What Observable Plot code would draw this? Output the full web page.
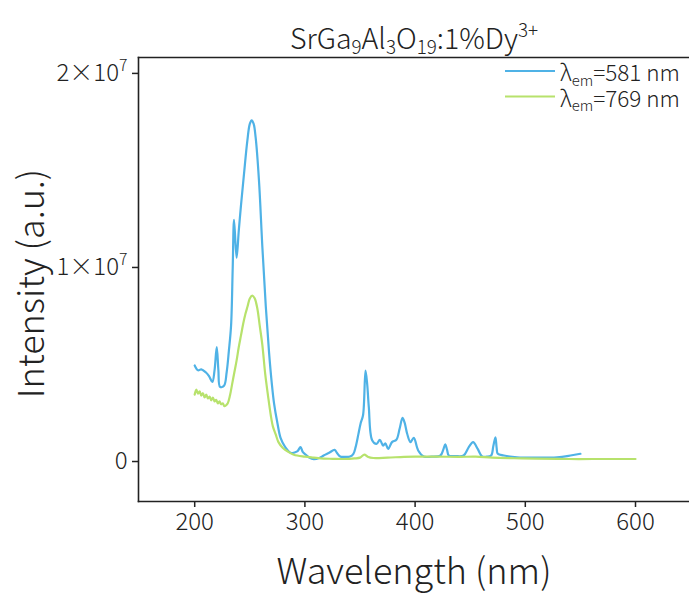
<!DOCTYPE html>
<html>
<head>
<meta charset="utf-8">
<script src="https://cdn.jsdelivr.net/npm/d3@7"></script>
<script src="https://cdn.jsdelivr.net/npm/@observablehq/plot@0.6"></script>
<style>
  html, body { margin: 0; padding: 0; background: #fff; }
  #chart svg { display: block; }
  #chart svg text { font-weight: 300; }
</style>
</head>
<body>
<div id="chart"></div>
<script>
// ---------- data ----------
const titleText = "SrGa_{9}Al_{3}O_{19}:1%Dy^{3+}";
const xLabel = "Wavelength (nm)";
const yLabel = "Intensity (a.u.)";
const seriesNames = ["λ_{em}=581 nm", "λ_{em}=769 nm"];
const xTicks = [200, 300, 400, 500, 600];
const yTicks = [0, 1e7, 2e7];
const yTickLabels = ["0", "1×10^{7}", "2×10^{7}"];

// λem = 581 nm
const wl581 = [200, 203, 206, 210, 213, 216, 218, 220, 221.5, 223, 226.6, 229, 231, 233, 234.5, 235.7, 238, 240, 242, 244.7,
  247.8, 250, 251.7, 253.5, 255.3, 258.3, 261.4, 264.5, 267.5, 270, 272, 275, 278, 282, 287, 293, 296, 298, 300.6, 304,
  308, 313, 317, 322, 327, 329, 332, 336, 341, 344, 346, 348.5, 350.5, 352.8, 355, 356.5, 358, 361, 365, 368,
  371, 373, 375.6, 379, 383, 386, 388.6, 390.5, 392.8, 395.8, 398.8, 402.8, 407.8, 415, 423, 425.5, 427.3, 429, 430.6, 437,
  444, 448.7, 452.6, 456.8, 460.8, 465, 469, 471, 472.9, 474, 475, 480.5, 492.5, 510, 528.8, 541, 550];
const int581 = [0.495, 0.47, 0.475, 0.46, 0.44, 0.41, 0.47, 0.59, 0.47, 0.385, 0.39, 0.46, 0.57, 0.7, 1.0, 1.246, 1.05, 1.19, 1.32, 1.48,
  1.655, 1.74, 1.758, 1.74, 1.67, 1.45, 1.105, 0.8, 0.56, 0.4, 0.3, 0.2, 0.12, 0.075, 0.045, 0.052, 0.074, 0.05, 0.036, 0.02,
  0.012, 0.018, 0.031, 0.045, 0.06, 0.045, 0.026, 0.024, 0.026, 0.04, 0.074, 0.14, 0.195, 0.24, 0.469, 0.4, 0.28, 0.11, 0.091, 0.112,
  0.082, 0.094, 0.065, 0.1, 0.112, 0.17, 0.225, 0.2, 0.143, 0.1, 0.122, 0.057, 0.026, 0.025, 0.031, 0.06, 0.088, 0.06, 0.031, 0.028,
  0.031, 0.074, 0.1, 0.065, 0.026, 0.025, 0.031, 0.08, 0.125, 0.07, 0.04, 0.031, 0.022, 0.02, 0.022, 0.031, 0.04].map(v => v * 1e7);

// λem = 769 nm
const wl769 = [200, 201.5, 203, 204.5, 206, 207.5, 209, 210.5, 212, 213.5, 215, 216.5, 218, 219.5, 221, 222.5, 224, 225.5, 227, 228.5,
  230, 232, 234, 236, 238, 240, 242, 244, 246, 248, 250, 252.3, 254.5, 256.8, 259, 261.4, 264, 266.5, 269, 271,
  273.5, 276, 280, 285, 290, 300, 308, 317, 325, 335, 345, 350, 354, 357, 362, 375, 390, 400, 420, 440,
  455, 470, 490, 510, 540, 570, 600];
const int769 = [0.345, 0.37, 0.35, 0.362, 0.34, 0.352, 0.33, 0.345, 0.325, 0.335, 0.315, 0.33, 0.31, 0.318, 0.3, 0.31, 0.295, 0.3, 0.285, 0.29,
  0.3, 0.34, 0.4, 0.46, 0.52, 0.59, 0.65, 0.71, 0.76, 0.8, 0.84, 0.855, 0.84, 0.79, 0.7, 0.6, 0.45, 0.34, 0.24, 0.18,
  0.14, 0.1, 0.07, 0.05, 0.035, 0.025, 0.02, 0.015, 0.014, 0.013, 0.016, 0.02, 0.036, 0.025, 0.018, 0.02, 0.024, 0.025, 0.025, 0.024,
  0.025, 0.02, 0.017, 0.015, 0.013, 0.013, 0.013].map(v => v * 1e7);

// ---------- build ----------
const colors = ["#4fb2e6", "#b7e26c"];
const rows = [
  ...wl581.map((w, i) => ({w, v: int581[i], s: seriesNames[0]})),
  ...wl769.map((w, i) => ({w, v: int769[i], s: seriesNames[1]}))
];

const FONT = "'Noto Sans CJK SC', 'Noto Sans', sans-serif";
const fs = 24;
const plot = Plot.plot({
  width: 689,
  height: 594,
  marginLeft: 138,
  marginRight: 0,
  marginTop: 57,
  marginBottom: 93,
  style: {fontFamily: FONT, fontSize: fs + "px", color: "#222"},
  x: {domain: [149, 649]},
  y: {domain: [-0.206e7, 2.082e7]},
  color: {domain: seriesNames, range: colors},
  marks: [
    Plot.frame({anchor: "top", stroke: "#222", strokeWidth: 1.6}),
    Plot.frame({anchor: "left", stroke: "#222", strokeWidth: 1.6}),
    Plot.frame({anchor: "bottom", stroke: "#222", strokeWidth: 1.6}),
    Plot.axisX({ticks: xTicks, tickSize: 6, tickPadding: 5, label: null, strokeWidth: 1.5, fontSize: fs}),
    Plot.axisY({ticks: yTicks, tickSize: 6, tickPadding: 5, label: null, strokeWidth: 1.5, fontSize: fs,
      tickFormat: d => yTickLabels[yTicks.indexOf(d)]}),
    Plot.line(rows, {x: "w", y: "v", z: "s", stroke: "s", strokeWidth: 2.2, curve: "catmull-rom"}),
    Plot.text([titleText], {frameAnchor: "top", dy: -29, fontSize: 28.5, fill: "#222"}),
    Plot.text([xLabel], {frameAnchor: "bottom", dy: 82, fontSize: 36, fill: "#222"}),
    Plot.text([yLabel], {frameAnchor: "left", textAnchor: "middle", rotate: -90, dx: -106, dy: 4, fontSize: 36, fill: "#222"})
  ]
});

document.getElementById("chart").appendChild(plot);

// ---------- legend ----------
const svg = d3.select(plot);
const legend = svg.append("g").attr("font-size", 22.5).attr("fill", "#222")
  .attr("text-anchor", "start").attr("font-family", FONT);
seriesNames.forEach((name, i) => {
  const y = 71 + i * 25.5;
  legend.append("line").attr("x1", 505).attr("x2", 555).attr("y1", y).attr("y2", y)
    .attr("stroke", colors[i]).attr("stroke-width", 2);
  legend.append("text").attr("x", 560).attr("y", y + 10).text(name);
});

// ---------- rich text (sub/superscripts) ----------
const NS = "http://www.w3.org/2000/svg";
plot.querySelectorAll("text").forEach(el => {
  const s = el.textContent;
  if (!/[\^_]\{/.test(s)) return;
  const size = parseFloat(getComputedStyle(el).fontSize) || fs;
  const parts = s.split(/([\^_]\{[^}]*\})/).filter(p => p.length);
  while (el.firstChild) el.removeChild(el.firstChild);
  let cur = 0;
  parts.forEach(p => {
    const m = p.match(/^([\^_])\{([^}]*)\}$/);
    const t = document.createElementNS(NS, "tspan");
    const target = m ? (m[1] === "^" ? -0.42 : 0.2) : 0;
    if (target !== cur) t.setAttribute("dy", ((target - cur) * size).toFixed(2));
    cur = target;
    if (m) t.setAttribute("font-size", (size * 0.66).toFixed(1));
    t.textContent = m ? m[2] : p;
    el.appendChild(t);
  });
});
</script>
</body>
</html>
